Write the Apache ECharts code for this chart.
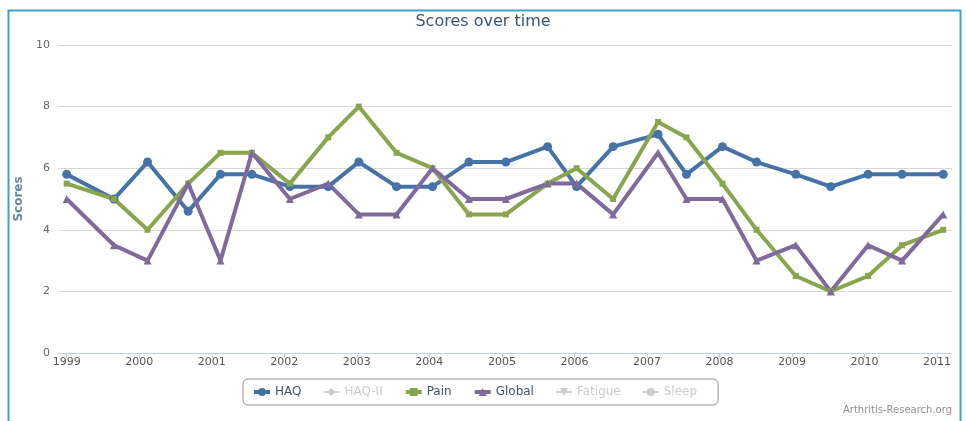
<!DOCTYPE html>
<html>
<head>
<meta charset="utf-8">
<script src="https://cdn.jsdelivr.net/npm/echarts@6/dist/echarts.min.js"></script>
<style>
  html, body { margin: 0; padding: 0; background: #fff; }
  #chart { width: 966px; height: 421px; }
</style>
</head>
<body>
<div id="chart"></div>
<script>
  // visit dates (shared by every score)
  var visitDates = [
    '1999-01-01', '1999-08-27', '2000-02-12', '2000-09-04', '2001-02-14',
    '2001-07-22', '2002-01-29', '2002-08-10', '2003-01-11', '2003-07-20',
    '2004-01-17', '2004-07-19', '2005-01-21', '2005-08-19', '2006-01-12',
    '2006-07-15', '2007-02-26', '2007-07-19', '2008-01-16', '2008-07-06',
    '2009-01-20', '2009-07-15', '2010-01-19', '2010-07-09', '2011-02-01'
  ]
  var haq = [5.8, 5.0, 6.2, 4.6, 5.8, 5.8, 5.4, 5.4, 6.2, 5.4, 5.4, 6.2, 6.2, 6.7, 5.4, 6.7, 7.1, 5.8, 6.7, 6.2, 5.8, 5.4, 5.8, 5.8, 5.8]
  var pain = [5.5, 5.0, 4.0, 5.5, 6.5, 6.5, 5.5, 7.0, 8.0, 6.5, 6.0, 4.5, 4.5, 5.5, 6.0, 5.0, 7.5, 7.0, 5.5, 4.0, 2.5, 2.0, 2.5, 3.5, 4.0]
  var global = [5.0, 3.5, 3.0, 5.5, 3.0, 6.5, 5.0, 5.5, 4.5, 4.5, 6.0, 5.0, 5.0, 5.5, 5.5, 4.5, 6.5, 5.0, 5.0, 3.0, 3.5, 2.0, 3.5, 3.0, 4.5]
  var yearTicks = [1999, 2000, 2001, 2002, 2003, 2004, 2005, 2006, 2007, 2008, 2009, 2010, 2011]
  var legendNames = ['HAQ', 'HAQ-II', 'Pain', 'Global', 'Fatigue', 'Sleep']

  var font = 'DejaVu Sans'

  // date string -> fractional year
  function toYear(d) {
    var t = new Date(d + 'T00:00:00Z')
    var y = t.getUTCFullYear()
    var start = Date.UTC(y, 0, 1)
    var end = Date.UTC(y + 1, 0, 1)
    return y + (t.getTime() - start) / (end - start)
  }

  function pairs(values) {
    return values.map(function (v, i) {
      return [toYear(visitDates[i]), v]
    })
  }

  function makeSeries(name, color, symbol, size, values) {
    return {
      name: name,
      type: 'line',
      data: values ? pairs(values) : [],
      symbol: symbol,
      symbolSize: size,
      showSymbol: true,
      color: color,
      lineStyle: { width: 4, color: color },
      itemStyle: { color: color },
      emphasis: { disabled: true },
      animation: false
    }
  }

  var myChart = echarts.init(document.getElementById('chart'))
  var option = {
    animation: false,
    title: {
      text: 'Scores over time',
      left: 'center',
      top: 9,
      textStyle: {
        fontFamily: font,
        fontSize: 16,
        fontWeight: 'normal',
        color: '#3a5670'
      }
    },
    graphic: [
      {
        type: 'rect',
        shape: { x: 8.5, y: 10.5, width: 952, height: 430 },
        style: { fill: 'none', stroke: '#3f9fc5', lineWidth: 2 },
        silent: true
      },
      {
        type: 'text',
        right: 14,
        top: 405,
        style: {
          text: 'Arthritis-Research.org',
          fill: '#909090',
          font: '10px "DejaVu Sans"'
        },
        silent: true
      }
    ],
    legend: {
      data: legendNames,
      left: 243,
      top: 379,
      orient: 'horizontal',
      itemWidth: 16,
      itemHeight: 10,
      itemGap: 21,
      padding: [7, 21, 7, 9],
      borderColor: '#909090',
      borderWidth: 1,
      borderRadius: 5,
      inactiveColor: '#cccccc',
      inactiveBorderColor: '#cccccc',
      lineStyle: { width: 4 },
      selected: { 'HAQ-II': false, 'Fatigue': false, 'Sleep': false },
      textStyle: { fontFamily: font, fontSize: 12, color: '#3e576f' }
    },
    grid: {
      left: 58,
      right: 14,
      top: 45,
      bottom: 68,
      containLabel: false
    },
    xAxis: {
      type: 'value',
      min: 1998.88,
      max: 2011.206,
      axisLine: { show: true, lineStyle: { color: '#c0d0e0', width: 1 } },
      axisTick: {
        show: true,
        length: 5,
        customValues: yearTicks,
        lineStyle: { color: '#c0d0e0' }
      },
      axisLabel: {
        customValues: yearTicks,
        formatter: function (v) { return String(Math.round(v)) },
        margin: 4,
        fontFamily: font,
        fontSize: 11,
        color: '#555'
      },
      splitLine: { show: false }
    },
    yAxis: {
      type: 'value',
      min: 0,
      max: 10,
      interval: 2,
      name: 'Scores',
      nameLocation: 'middle',
      nameGap: 32,
      nameRotate: 90,
      nameTextStyle: {
        fontFamily: font,
        fontSize: 12,
        fontWeight: 'bold',
        color: '#6d869f'
      },
      axisLine: { show: false },
      axisTick: { show: false },
      axisLabel: {
        margin: 8,
        fontFamily: font,
        fontSize: 11,
        color: '#666'
      },
      splitLine: { lineStyle: { color: '#d8d8d8', width: 1 } }
    },
    series: [
      makeSeries('HAQ', '#4572a7', 'circle', 9, haq),
      makeSeries('HAQ-II', '#aa4643', 'diamond', 9, null),
      makeSeries('Pain', '#89a54e', 'rect', 6, pain),
      makeSeries('Global', '#80699b', 'triangle', 8, global),
      makeSeries('Fatigue', '#3d96ae', 'path://M0,0 L10,0 L5,10 Z', 8, null),
      makeSeries('Sleep', '#db843d', 'circle', 8, null)
    ]
  }
  myChart.setOption(option)
</script>
</body>
</html>
